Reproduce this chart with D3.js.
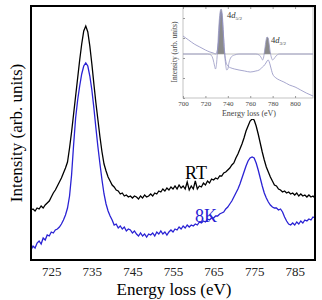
<!DOCTYPE html>
<html>
<head>
<meta charset="utf-8">
<script src="https://cdn.jsdelivr.net/npm/d3@7"></script>
<style>
  body { margin: 0; background: #fff; }
</style>
</head>
<body>
<svg id="chart" width="322" height="300"></svg>
<script>
var SERIF = "'Liberation Serif', 'DejaVu Serif', 'Times New Roman', serif";

// main spectra, sampled every 0.5 eV from 720 to 790 eV
var eStart = 720, eStep = 0.5;
var rtVals = [
  50,51,49,52,51,54,52,55,57,59,
  63,67,70,74,78,82,87,92,98,112,
  128,146,164,182,200,216,229,234,228,214,
  196,176,157,140,123,108,96,89,83,79,
  75,73,70,69,66,67,64,65,63,64,
  62,64,63,61,64,62,65,63,64,66,
  64,67,66,69,68,71,69,72,70,73,
  71,74,71,75,72,74,71,78,70,74,
  71,79,71,74,73,77,75,79,77,81,
  80,82,81,84,84,87,88,90,92,95,
  97,102,106,111,116,122,129,134,139,141,
  140,134,126,117,108,100,93,88,83,79,
  75,74,71,70,68,69,67,68,66,67,
  65,67,64,66,64,65,63,65,63,64,
  62
];
var k8Vals = [
  10,14,12,17,19,16,22,20,25,24,
  28,27,30,31,33,36,40,45,52,64,
  85,115,142,160,174,186,194,197,194,184,
  170,152,132,113,96,80,66,56,49,44,
  40,35,36,32,34,31,33,29,31,30,
  27,29,26,24,27,24,26,23,26,25,
  27,24,28,26,29,26,28,25,28,30,
  28,31,30,33,31,34,32,35,33,35,
  34,36,35,38,37,39,38,41,40,42,
  42,44,44,46,47,48,51,53,56,59,
  63,67,71,76,82,88,94,99,102,103,
  102,97,90,82,74,67,62,58,55,53,
  52,52,50,51,48,43,39,36,35,37,
  35,38,36,39,37,40,39,41,40,43,
  42
];
var xTicks = [725, 735, 745, 755, 765, 775, 785];

// inset: spectrum and its derivative-like curve
var insetAE = [700,705,710,715,720,724,727,729,731,732,733,734,735,736,737,738,740,743,746,750,755,760,765,768,770,772,774,775,776,777,778,780,783,786,790,795,800,805,810,816];
var insetAV = [62,58,54,51,48,46,45,44,50,60,76,86,80,64,48,38,32,30,29,28,27,26,27,28,30,32,35,37,38,36,32,24,20,18,16,13,11,8,5,2];
var insetBE = [700,722,725,727,728,729,730,731,732,733,734,735,736,737,738,739,740,741,743,746,750,765,768,770,771,772,773,774,775,776,777,778,779,780,781,783,786,816];
var insetBV = [44,44,43,38,33,29,35,52,72,85,89,84,66,46,34,28,29,35,41,43,44,44,43,40,38,41,49,57,61,60,53,45,40,38,39,42,44,44];
var insetBase = 44;
var insetTicks = [700, 720, 740, 760, 780, 800];

function toPts(vals) {
  return vals.map(function(v, i){ return [eStart + i * eStep, v]; });
}

var svg = d3.select("#chart");
var L = 31, R = 315, T = 6, B = 260;

var x = d3.scaleLinear().domain([720, 790]).range([L, R]);
var y = d3.scaleLinear().domain([0, 254]).range([B, T]);

svg.append("clipPath").attr("id", "clip")
  .append("rect").attr("x", L).attr("y", T).attr("width", R - L).attr("height", B - T);

var line = d3.line()
  .x(function(d){ return x(d[0]); })
  .y(function(d){ return y(d[1]); });

var gPlot = svg.append("g").attr("clip-path", "url(#clip)");
gPlot.append("path").datum(toPts(k8Vals))
  .attr("d", line).attr("fill", "none")
  .attr("stroke", "#2a22d4").attr("stroke-width", 1.3);
gPlot.append("path").datum(toPts(rtVals))
  .attr("d", line).attr("fill", "none")
  .attr("stroke", "#000").attr("stroke-width", 1.3);

// x axis labels (no tick marks in the original)
var xAxis = d3.axisBottom(x).tickValues(xTicks).tickSize(0).tickPadding(7);
var gx = svg.append("g").attr("transform", "translate(0," + B + ")").call(xAxis);
gx.attr("font-family", SERIF);
gx.select(".domain").remove();
gx.selectAll("text").attr("font-size", 13).attr("fill", "#222")
  .style("font-family", SERIF);

svg.append("text").attr("x", 174).attr("y", 295)
  .attr("text-anchor", "middle").attr("font-size", 17)
  .style("font-family", SERIF)
  .text("Energy loss (eV)");

svg.append("text")
  .attr("transform", "translate(22,133) rotate(-90)")
  .attr("text-anchor", "middle").attr("font-size", 17)
  .style("font-family", SERIF)
  .text("Intensity (arb. units)");

svg.append("text").attr("x", 185).attr("y", 179)
  .attr("font-size", 18).attr("fill", "#000")
  .style("font-family", SERIF).text("RT");
svg.append("text").attr("x", 195).attr("y", 222)
  .attr("font-size", 18).attr("fill", "#2a22d4")
  .style("font-family", SERIF).text("8K");

// inset
var iL = 183, iR = 313, iT = 7, iB = 98;
svg.append("rect").attr("x", 163).attr("y", T).attr("width", R - 163).attr("height", 113)
  .attr("fill", "#fff");

var ix = d3.scaleLinear().domain([700, 816]).range([iL, iR]);
var iy = d3.scaleLinear().domain([0, 91]).range([iB, iT]);

var gIn = svg.append("g");
gIn.append("rect").attr("x", iL).attr("y", iT).attr("width", iR - iL).attr("height", iB - iT)
  .attr("fill", "none").attr("stroke", "#aaa").attr("stroke-width", 0.7);

var bPts = insetBE.map(function(e, i){ return [e, insetBV[i]]; });
var aPts = insetAE.map(function(e, i){ return [e, insetAV[i]]; });

var iArea = d3.area()
  .x(function(d){ return ix(d[0]); })
  .y0(iy(insetBase))
  .y1(function(d){ return iy(Math.max(d[1], insetBase)); })
  .curve(d3.curveMonotoneX);
gIn.append("path").datum(bPts).attr("d", iArea).attr("fill", "#8a8a8a");

var iLine = d3.line()
  .x(function(d){ return ix(d[0]); })
  .y(function(d){ return iy(d[1]); })
  .curve(d3.curveMonotoneX);

gIn.append("line").attr("x1", iL).attr("x2", iR)
  .attr("y1", iy(insetBase)).attr("y2", iy(insetBase))
  .attr("stroke", "#999").attr("stroke-width", 0.6);
gIn.append("path").datum(bPts).attr("d", iLine).attr("fill", "none")
  .attr("stroke", "#9a9ac4").attr("stroke-width", 0.8);
gIn.append("path").datum(aPts).attr("d", iLine).attr("fill", "none")
  .attr("stroke", "#8f8fc0").attr("stroke-width", 0.8);

var ixAxis = d3.axisBottom(ix).tickValues(insetTicks).tickSize(-2).tickPadding(3);
var gix = gIn.append("g").attr("transform", "translate(0," + iB + ")").call(ixAxis);
gix.select(".domain").remove();
gix.selectAll("line").attr("stroke", "#999");
gix.selectAll("text").attr("font-size", 7).attr("fill", "#444")
  .style("font-family", SERIF);
var ixTop = d3.axisTop(ix).tickValues(insetTicks).tickSize(-2).tickFormat("");
var gixt = gIn.append("g").attr("transform", "translate(0," + iT + ")").call(ixTop);
gixt.select(".domain").remove();
gixt.selectAll("line").attr("stroke", "#999");
var iyAxis = d3.axisLeft(iy).ticks(6).tickSize(-2).tickFormat("");
var giy = gIn.append("g").attr("transform", "translate(" + iL + ",0)").call(iyAxis);
giy.select(".domain").remove();
giy.selectAll("line").attr("stroke", "#999");

gIn.append("text").attr("x", 249).attr("y", 116)
  .attr("text-anchor", "middle").attr("font-size", 8).attr("fill", "#444")
  .style("font-family", SERIF)
  .text("Energy loss (eV)");
gIn.append("text").attr("transform", "translate(177,52) rotate(-90)")
  .attr("text-anchor", "middle").attr("font-size", 7.5).attr("fill", "#444")
  .style("font-family", SERIF)
  .text("Intensity (arb. units)");

var lab1 = gIn.append("text").attr("x", 227).attr("y", 18).attr("font-size", 8.5)
  .attr("fill", "#333").style("font-family", SERIF);
lab1.append("tspan").text("4");
lab1.append("tspan").attr("font-style", "italic").text("d");
lab1.append("tspan").attr("font-size", 5).attr("dy", 1.5).text("5/2");
var lab2 = gIn.append("text").attr("x", 271).attr("y", 43).attr("font-size", 8.5)
  .attr("fill", "#333").style("font-family", SERIF);
lab2.append("tspan").text("4");
lab2.append("tspan").attr("font-style", "italic").text("d");
lab2.append("tspan").attr("font-size", 5).attr("dy", 1.5).text("3/2");

// frame on top
svg.append("rect").attr("x", L).attr("y", T).attr("width", R - L).attr("height", B - T)
  .attr("fill", "none").attr("stroke", "#000").attr("stroke-width", 2);
</script>
</body>
</html>
